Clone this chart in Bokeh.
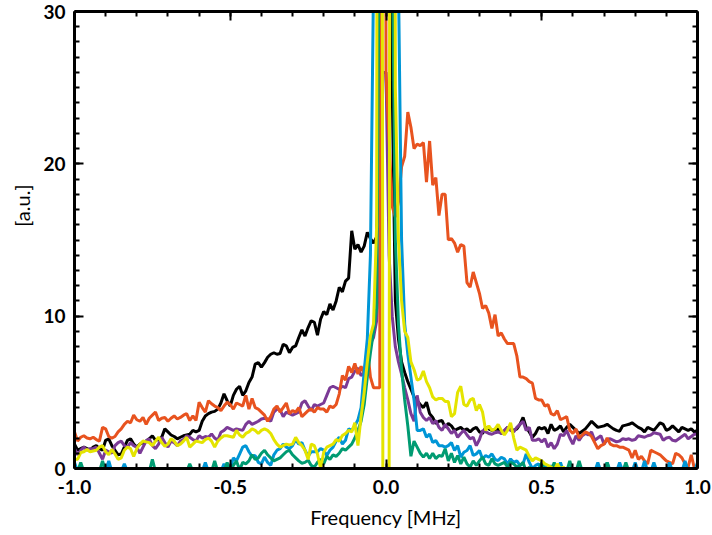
import numpy as np
from bokeh.plotting import figure
from bokeh.models import Range1d, LinearAxis, FixedTicker, CustomLabelingPolicy, Title
from bokeh.embed import file_html
from bokeh.resources import INLINE

# frequency bins [MHz]
freq = np.round(np.linspace(-1.0, 1.0, 201), 2)

black = [
    1.6, 1.2, 1.3, 1.4, 1.3, 1.2, 1.4, 1.5, 1.3, 1.2,
    1.85, 1.95, 1.5, 1.2, 0.9, 0.95, 1.4, 1.85, 1.95, 1.6,
    1.4, 1.6, 1.7, 1.8, 1.95, 2.15, 1.85, 1.9, 2.05, 2.6,
    2.4, 2.2, 2.1, 1.95, 2.05, 2.15, 2.2, 2.25, 2.5, 2.4,
    2.5, 3.1, 3.45, 3.6, 3.7, 3.75, 3.9, 4.3, 4.9, 4.45,
    4.1, 4.8, 5.2, 5.4, 4.8, 5.1, 5.65, 6.0, 6.85, 6.95,
    6.65, 6.95, 7.3, 7.5, 7.6, 7.5, 7.55, 8.15, 8.05, 7.6,
    7.95, 8.05, 8.6, 9.1, 8.7, 9.25, 9.7, 9.6, 8.75, 9.8,
    10.3, 10.1, 10.8, 10.4, 11.0, 11.9, 11.6, 12.3, 12.5, 15.6,
    14.4, 14.7, 14.2, 14.6, 15.5, 15.1, 14.8, 15.2, 22.0, 70.0,
    100.0, 70.0, 25.0, 11.0, 8.5, 7.0, 6.3, 5.7, 5.2, 4.7,
    4.45, 4.2, 4.0, 4.35, 3.6, 3.35, 2.95, 3.1, 3.15, 2.7,
    2.95, 2.8, 2.5, 2.6, 2.7, 2.5, 2.6, 2.4, 2.6, 2.7,
    2.4, 2.3, 2.7, 2.6, 2.5, 2.55, 2.6, 2.3, 2.45, 2.7,
    2.6, 2.5, 2.6, 2.9, 3.35, 2.7, 2.4, 2.05, 2.3, 2.7,
    2.6, 2.7, 2.3, 2.9, 2.5, 2.6, 2.8, 2.4, 2.7, 2.9,
    2.7, 2.5, 2.3, 2.45, 2.6, 2.85, 3.1, 2.9, 2.7, 2.75,
    2.8, 2.9, 2.75, 2.6, 2.5, 2.45, 2.8, 2.85, 2.9, 3.0,
    2.85, 2.7, 2.6, 2.4, 2.7, 2.6, 2.5, 2.75, 3.0, 2.9,
    2.5, 2.6, 2.8, 2.6, 2.4, 2.7, 2.6, 2.5, 2.6, 2.4,
    2.5]

purple = [
    1.3, 0.9, 1.2, 1.4, 1.2, 1.3, 1.3, 1.4, 1.0, 0.6,
    1.2, 1.1, 1.0, 1.5, 1.7, 1.8, 1.5, 1.4, 1.7, 1.5,
    1.4, 1.0, 1.4, 1.8, 1.95, 1.5, 1.3, 1.6, 2.05, 1.7,
    1.4, 1.8, 1.7, 1.5, 1.8, 1.9, 2.15, 2.05, 1.9, 1.8,
    2.15, 2.0, 2.1, 2.05, 2.27, 2.0, 1.85, 2.38, 2.5, 2.7,
    2.6, 2.5, 2.6, 2.55, 2.5, 2.9, 3.1, 2.9, 3.0, 3.1,
    3.25, 3.3, 3.25, 3.1, 3.7, 3.9, 3.85, 3.4, 3.7, 3.6,
    3.5, 3.6, 3.7, 4.3, 4.45, 4.1, 3.8, 4.2, 4.1, 4.2,
    4.3, 4.8, 5.3, 5.4, 5.3, 5.2, 5.4, 5.3, 5.9, 6.0,
    6.4, 6.6, 6.1, 6.3, 7.1, 8.2, 8.6, 9.7, 14.0, 26.0,
    26.0, 14.0, 10.0, 8.0, 7.0, 6.2, 5.3, 4.5, 3.6, 3.1,
    4.8, 3.7, 3.35, 3.15, 3.35, 2.95, 3.15, 2.7, 2.5, 2.9,
    2.6, 2.3, 2.5, 2.05, 2.3, 2.5, 2.2, 1.95, 2.05, 1.5,
    1.9, 2.5, 2.4, 2.3, 2.25, 2.35, 2.4, 2.3, 2.5, 2.7,
    2.5, 2.4, 2.7, 2.9, 3.1, 2.5, 2.7, 1.85, 1.85, 1.95,
    1.75, 1.95, 1.4, 1.7, 1.3, 1.6, 2.25, 2.15, 2.5, 2.0,
    1.6, 2.15, 1.85, 2.15, 2.3, 2.2, 2.4, 1.85, 2.0, 2.15,
    1.6, 1.9, 1.95, 1.85, 1.75, 1.8, 1.95, 1.9, 1.95, 1.85,
    1.9, 2.15, 2.1, 2.05, 2.15, 2.2, 2.35, 2.3, 2.25, 1.85,
    2.0, 2.05, 1.85, 1.8, 1.95, 2.1, 2.25, 1.95, 2.1, 2.25,
    2.25]

orange = [
    2.4, 1.8, 2.05, 2.15, 2.0, 1.95, 2.05, 1.9, 1.8, 2.7,
    2.6, 2.1, 2.0, 2.1, 2.4, 2.6, 2.9, 3.1, 3.0, 3.5,
    3.2, 3.1, 3.35, 2.9, 3.3, 3.5, 3.7, 3.15, 3.3, 3.35,
    3.1, 3.3, 3.45, 3.25, 3.35, 3.5, 3.6, 3.15, 3.45, 3.15,
    4.35, 4.0, 3.7, 4.45, 4.25, 4.1, 4.0, 3.8, 4.1, 4.35,
    4.2, 3.9, 4.3, 4.2, 4.1, 4.8, 3.9, 4.6, 4.0, 3.9,
    3.7, 3.5, 3.1, 3.4, 3.9, 4.1, 3.7, 4.0, 4.3, 3.6,
    3.8, 3.7, 4.0, 3.4, 3.6, 3.8, 3.9, 3.7, 4.0, 3.9,
    3.9, 3.7, 4.1, 4.0, 4.2, 4.9, 6.1, 5.8, 6.7, 6.3,
    6.9, 6.2, 6.7, 6.2, 7.9, 6.0, 5.3, 5.3, 5.3, 200.0,
    26.0, 21.5, 17.2, 16.5, 17.5, 19.8, 20.5, 23.4, 22.4, 21.0,
    21.3, 21.2, 21.4, 18.8, 21.5, 18.6, 19.1, 16.6, 18.0, 18.0,
    15.0, 15.1, 14.8, 14.2, 14.7, 14.6, 12.2, 11.9, 12.9, 12.2,
    11.5, 10.5, 10.7, 10.2, 9.2, 10.1, 8.7, 8.9, 8.5, 8.2,
    8.2, 8.2, 7.4, 6.0, 6.0, 5.9, 5.7, 5.6, 4.6, 4.5,
    4.5, 4.1, 4.2, 3.6, 3.5, 3.8, 3.2, 3.3, 3.4, 2.5,
    2.3, 2.6, 2.0, 2.2, 2.4, 2.3, 2.1, 1.7, 1.3, 1.5,
    1.6, 2.0, 1.6, 1.5, 1.5, 1.4, 1.4, 1.3, 1.2, 0.7,
    1.2, 0.6, 0.8, 0.5, 0.3, 1.2, 1.1, 1.0, 0.9, 0.7,
    0.5, 0.4, 0.3, 1.0, 0.9, 0.7, 0.3, 0.1, 0.9, 0.0,
    0.2]

blue = [
    0.4, -0.2, -0.2, -0.2, -0.2, -0.2, -0.2, -0.2, -0.2, -0.2,
    -0.2, 0.5, -0.2, -0.2, -0.2, -0.2, 0.3, -0.2, -0.2, -0.2,
    -0.2, -0.2, -0.2, -0.2, -0.2, -0.2, -0.2, -0.2, -0.2, -0.2,
    -0.2, -0.2, -0.2, -0.2, -0.2, -0.2, -0.2, -0.2, -0.2, -0.2,
    -0.2, -0.2, 0.4, -0.2, -0.2, -0.2, -0.2, -0.2, 0.3, -0.2,
    0.0, 0.7, 0.5, 0.95, 1.4, 1.5, 1.1, 0.8, 0.85, 0.4,
    0.3, 0.75, 0.4, 0.2, 0.9, 1.2, 1.3, 1.6, 1.4, 1.3,
    1.5, 1.9, 1.6, 1.7, 1.2, 0.8, 1.1, 1.1, 1.1, 1.3,
    1.2, 0.85, 1.2, 1.4, 1.8, 2.05, 1.6, 1.85, 2.6, 2.5,
    2.8, 3.2, 4.0, 6.4, 8.5, 14.0, 32.0, 80.0, 100.0, 100.0,
    100.0, 100.0, 80.0, 60.0, 32.0, 15.0, 9.5, 7.5, 6.0, 4.5,
    2.5, 2.5, 2.6, 2.05, 2.27, 1.7, 1.83, 1.5, 1.5, 1.4,
    1.5, 1.7, 1.18, 1.5, 0.74, 1.07, 1.18, 1.5, 0.85, 0.96,
    1.18, 0.63, 0.85, 0.74, 0.96, 0.6, 0.52, 0.74, 0.63, 0.3,
    0.63, 0.4, 0.5, 0.2, 0.3, 0.96, 0.4, 0.0, 0.2, 0.3,
    -0.2, 0.3, -0.2, 0.2, -0.2, -0.2, 0.4, -0.2, -0.2, -0.2,
    -0.2, -0.2, -0.2, -0.2, -0.2, -0.2, -0.2, -0.2, 0.4, -0.2,
    -0.2, 0.4, -0.2, -0.2, -0.2, 0.4, -0.2, -0.2, -0.2, -0.2,
    0.4, -0.2, -0.2, 0.5, -0.2, -0.2, 0.4, -0.2, -0.2, -0.2,
    -0.2, 0.4, -0.2, -0.2, -0.2, -0.2, 0.5, -0.2, -0.2, -0.2,
    0.4]

green = [
    -0.2, -0.2, 0.4, -0.2, -0.2, -0.2, -0.2, -0.2, -0.2, 0.5,
    -0.2, -0.2, -0.2, -0.2, -0.2, -0.2, -0.2, -0.2, -0.2, -0.2,
    -0.2, -0.2, -0.2, -0.2, -0.2, 0.6, -0.2, -0.2, -0.2, -0.2,
    -0.2, -0.2, -0.2, -0.2, -0.2, -0.2, -0.2, 0.3, -0.2, -0.2,
    -0.2, -0.2, -0.2, -0.2, -0.2, 0.5, -0.2, -0.2, -0.2, 0.4,
    -0.3, 0.2, 0.5, -0.1, 0.4, 0.3, 0.5, 0.9, 0.6, 0.7,
    1.0, 1.2, 0.9, 0.7, 0.5, 0.6, 0.7, 0.9, 1.1, 1.2,
    0.9, 0.7, 0.5, 0.35, 0.4, 0.55, 0.2, 0.1, 0.4, 0.6,
    0.3, 0.8, 0.6, 0.9, 0.8, 1.0, 1.3, 1.2, 1.4, 1.6,
    2.0, 2.5, 3.1, 4.2, 6.0, 7.6, 9.0, 10.5, 40.0, 70.0,
    90.0, 70.0, 35.0, 15.0, 9.5, 6.5, 4.5, 2.8, 0.8, 1.8,
    1.4, 1.0, 0.75, 1.0, 0.65, 1.0, 0.65, 0.85, 0.8, 1.3,
    0.5, 1.0, 0.4, 0.85, 0.3, 0.75, 0.3, 0.1, 0.5, 0.2,
    0.5, 0.75, 0.3, 0.2, 0.65, 0.3, 0.2, 0.3, 0.4, 0.1,
    0.4, 0.3, 0.1, 0.2, 0.4, -0.2, 0.1, -0.2, -0.2, -0.2,
    0.4, -0.2, -0.2, -0.2, 0.4, -0.2, -0.2, -0.2, -0.2, 0.5,
    -0.2, -0.2, 0.5, -0.2, -0.2, -0.2, -0.2, -0.2, -0.2, -0.2,
    -0.2, 0.4, -0.2, -0.2, -0.2, -0.2, -0.2, 0.4, -0.2, -0.2,
    -0.2, -0.2, -0.2, -0.2, -0.2, -0.2, -0.2, -0.2, -0.2, -0.2,
    -0.2, -0.2, -0.2, -0.2, -0.2, -0.2, -0.2, -0.2, -0.2, -0.2,
    -0.2]

yellow = [
    0.6, 0.6, 1.05, 1.1, 1.25, 1.1, 1.15, 1.2, 1.4, 1.5,
    1.1, 0.9, 1.25, 0.95, 0.6, 0.7, 1.2, 1.4, 1.3, 0.8,
    1.3, 1.6, 1.8, 1.75, 1.7, 1.5, 1.8, 2.05, 1.7, 1.45,
    1.6, 1.95, 1.8, 1.5, 1.6, 1.8, 2.05, 1.4, 1.6, 1.8,
    1.75, 1.7, 1.9, 2.0, 1.8, 1.4, 1.8, 2.0, 2.15, 2.15,
    2.1, 2.05, 2.5, 2.2, 2.05, 2.3, 2.4, 2.6, 2.5, 2.3,
    2.5, 2.6, 2.5, 2.3, 1.9, 1.6, 1.4, 1.5, 1.6, 1.55,
    1.6, 2.05, 1.7, 1.5, 1.2, 0.6, 1.6, 1.5, 0.95, 0.0,
    1.07, 1.4, 1.5, 1.6, 1.9, 1.8, 2.16, 2.3, 2.5, 2.4,
    3.0, 1.5, 3.4, 5.0, 7.0, 8.7, 9.5, 16.0, 200.0, -2.0,
    -2.0, -2.0, 200.0, 25.0, 15.0, 11.0, 9.0, 8.6, 7.0, 6.5,
    5.8, 5.9, 6.4, 5.7, 5.3, 4.7, 4.5, 4.6, 4.6, 4.4,
    4.4, 3.4, 3.6, 5.0, 5.4, 4.2, 4.1, 4.5, 4.6, 3.8,
    4.2, 3.7, 2.5, 2.8, 2.5, 2.6, 2.9, 2.5, 2.2, 2.5,
    3.0, 2.0, 1.2, 1.4, 1.3, 1.2, 0.8, 0.5, 0.7, 0.6,
    0.5, 0.3, 0.2, 0.1, -0.1, 0.3, 0.0, 0.1, -0.2, 0.0,
    -0.3, -0.3, -0.3, -0.3, -0.3, -0.3, -0.3, -0.3, -0.3, -0.3,
    -0.3, -0.3, -0.3, -0.3, -0.3, -0.3, -0.3, -0.3, -0.3, -0.3,
    -0.3, -0.3, -0.3, -0.3, -0.3, -0.3, -0.3, -0.3, -0.3, -0.3,
    -0.3, -0.3, -0.3, -0.3, -0.3, -0.3, -0.3, -0.3, -0.3, -0.3,
    -0.3]

series = [
    (black, "#000000"),
    (purple, "#7B3A96"),
    (orange, "#E8531F"),
    (blue, "#0096D6"),
    (green, "#009B72"),
    (yellow, "#E4E400"),
]

x_ticks = [-1.0, -0.5, 0.0, 0.5, 1.0]
x_tick_labels = ["-1.0", "-0.5", "0.0", "0.5", "1.0"]
y_ticks = [0, 10, 20, 30]
y_tick_labels = ["0", "10", "20", "30"]
x_minor = [round(-1.0 + 0.1 * k, 1) for k in range(21)]
y_minor = list(range(0, 31))

for s, _ in series:
    assert len(s) == len(freq), len(s)

p = figure(width=712, height=535, x_range=Range1d(-1.0, 1.0), y_range=Range1d(0, 30),
           output_backend="svg", toolbar_location=None,
           min_border_left=71, min_border_right=15, min_border_top=10, min_border_bottom=67)
p.xgrid.visible = False
p.ygrid.visible = False
p.outline_line_color = None

for vals, col in series:
    p.line(freq, vals, line_color=col, line_width=3)


def style(ax):
    ax.axis_line_width = 3
    ax.axis_line_color = "black"
    ax.major_tick_in = 9
    ax.major_tick_out = 0
    ax.minor_tick_in = 5
    ax.minor_tick_out = 0
    ax.major_tick_line_width = 2
    ax.minor_tick_line_width = 2
    ax.major_tick_line_color = "black"
    ax.minor_tick_line_color = "black"


bottom = p.below[0]
left = p.left[0]
bottom.ticker = FixedTicker(ticks=x_ticks, minor_ticks=x_minor)
left.ticker = FixedTicker(ticks=y_ticks, minor_ticks=y_minor)
bottom.major_label_overrides = dict(zip(x_ticks, x_tick_labels))
left.major_label_overrides = dict(zip(y_ticks, y_tick_labels))
for ax in (bottom, left):
    style(ax)
    ax.major_label_text_font = "Lato"
    ax.major_label_text_font_style = "bold"
    ax.major_label_text_font_size = "19px"
    ax.major_label_text_color = "black"
    ax.axis_label_text_font = "Lato"
    ax.axis_label_text_font_style = "normal"
    ax.axis_label_text_font_size = "20px"
    ax.axis_label_text_color = "black"
bottom.axis_label = "Frequency [MHz]"
bottom.major_label_standoff = 11
bottom.axis_label_standoff = 8
left.major_label_standoff = 9

# y title, placed above the axis centre as in the reference
ytitle = Title(text="[a.u.]", align="right", offset=173, standoff=14,
               vertical_align="bottom", text_font="Lato", text_font_style="normal",
               text_font_size="20px", text_color="black")
p.add_layout(ytitle, "left")

top = LinearAxis(ticker=FixedTicker(ticks=x_ticks, minor_ticks=x_minor),
                 major_label_policy=CustomLabelingPolicy(code="if (false) { yield 0 }"),
                 major_label_standoff=0)
right = LinearAxis(ticker=FixedTicker(ticks=y_ticks, minor_ticks=y_minor),
                   major_label_policy=CustomLabelingPolicy(code="if (false) { yield 0 }"),
                   major_label_standoff=0)
style(top)
style(right)
p.add_layout(top, "above")
p.add_layout(right, "right")

open("out.html", "w").write(file_html(p, INLINE))
